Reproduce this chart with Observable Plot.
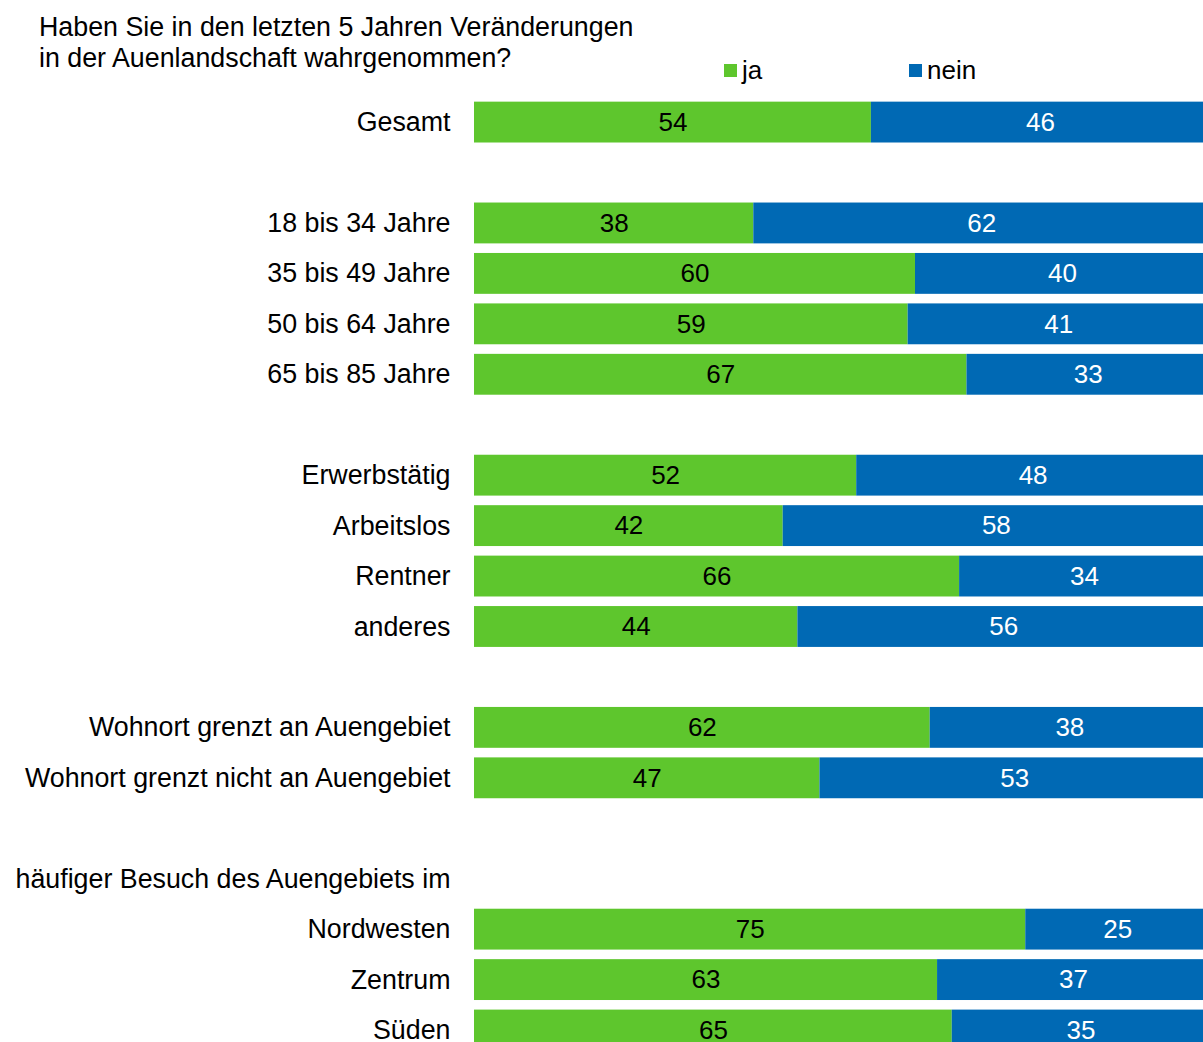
<!DOCTYPE html>
<html>
<head>
<meta charset="utf-8">
<script src="https://cdn.jsdelivr.net/npm/d3@7"></script>
<script src="https://cdn.jsdelivr.net/npm/@observablehq/plot@0.6"></script>
<style>
  html, body { margin: 0; padding: 0; background: #fff; overflow: hidden; }
  body { font-family: "Liberation Sans", Arial, sans-serif; color: #000; }
  #wrap { position: relative; width: 1203px; height: 1042px; }
  #title { position: absolute; left: 39px; top: 12px; font-size: 26.8px; line-height: 31px; }
  .leg { position: absolute; top: 55px; font-size: 26px; line-height: 30px; display: flex; align-items: center; }
  .sw { width: 13px; height: 13px; margin-right: 5px; }
</style>
</head>
<body>
<div id="wrap">
  <div id="chart"></div>
  <div id="title">Haben Sie in den letzten 5 Jahren Veränderungen<br>in der Auenlandschaft wahrgenommen?</div>
  <div class="leg" style="left:724px"><div class="sw" style="background:#5ec62d"></div>ja</div>
  <div class="leg" style="left:909px"><div class="sw" style="background:#0069b4"></div>nein</div>
</div>
<script>
const categories = ["Gesamt", "18 bis 34 Jahre", "35 bis 49 Jahre", "50 bis 64 Jahre", "65 bis 85 Jahre",
  "Erwerbstätig", "Arbeitslos", "Rentner", "anderes",
  "Wohnort grenzt an Auengebiet", "Wohnort grenzt nicht an Auengebiet",
  "Nordwesten", "Zentrum", "Süden"];
const ja   = [54, 38, 60, 59, 67, 52, 42, 66, 44, 62, 47, 75, 63, 65];
const nein = [46, 62, 40, 41, 33, 48, 58, 34, 56, 38, 53, 25, 37, 35];
const rowOrder = ["Gesamt", "_gap1", "18 bis 34 Jahre", "35 bis 49 Jahre", "50 bis 64 Jahre", "65 bis 85 Jahre",
  "_gap2", "Erwerbstätig", "Arbeitslos", "Rentner", "anderes",
  "_gap3", "Wohnort grenzt an Auengebiet", "Wohnort grenzt nicht an Auengebiet",
  "_gap4", "häufiger Besuch des Auengebiets im", "Nordwesten", "Zentrum", "Süden"];

const green = "#5ec62d", blue = "#0069b4";
const rows = categories.map((c, i) => ({cat: c, ja: ja[i], nein: nein[i]}));

const chart = Plot.plot({
  width: 1203,
  height: 1042,
  marginLeft: 474,
  marginRight: -6,
  marginTop: 96.6,
  marginBottom: -13.5,
  style: {fontFamily: '"Liberation Sans", Arial, sans-serif', fontSize: "26.8px", color: "#000", background: "#fff"},
  x: {domain: [0, 100], axis: null},
  y: {domain: rowOrder, paddingInner: 0.19, paddingOuter: 0.1, round: false, tickSize: 0, tickPadding: 24,
      label: null, tickFormat: d => d.startsWith("_gap") ? "" : d},
  marks: [
    Plot.barX(rows, {y: "cat", x1: () => 0, x2: "ja", fill: green}),
    Plot.barX(rows, {y: "cat", x1: "ja", x2: d => d.ja + d.nein, fill: blue}),
    Plot.text(rows, {y: "cat", x: d => d.ja / 2, text: d => String(d.ja), fill: "#000", fontSize: 26}),
    Plot.text(rows, {y: "cat", x: d => d.ja + d.nein / 2, text: d => String(d.nein), fill: "#fff", fontSize: 26})
  ]
});
chart.style.display = "block";
document.getElementById("chart").appendChild(chart);
</script>
</body>
</html>
